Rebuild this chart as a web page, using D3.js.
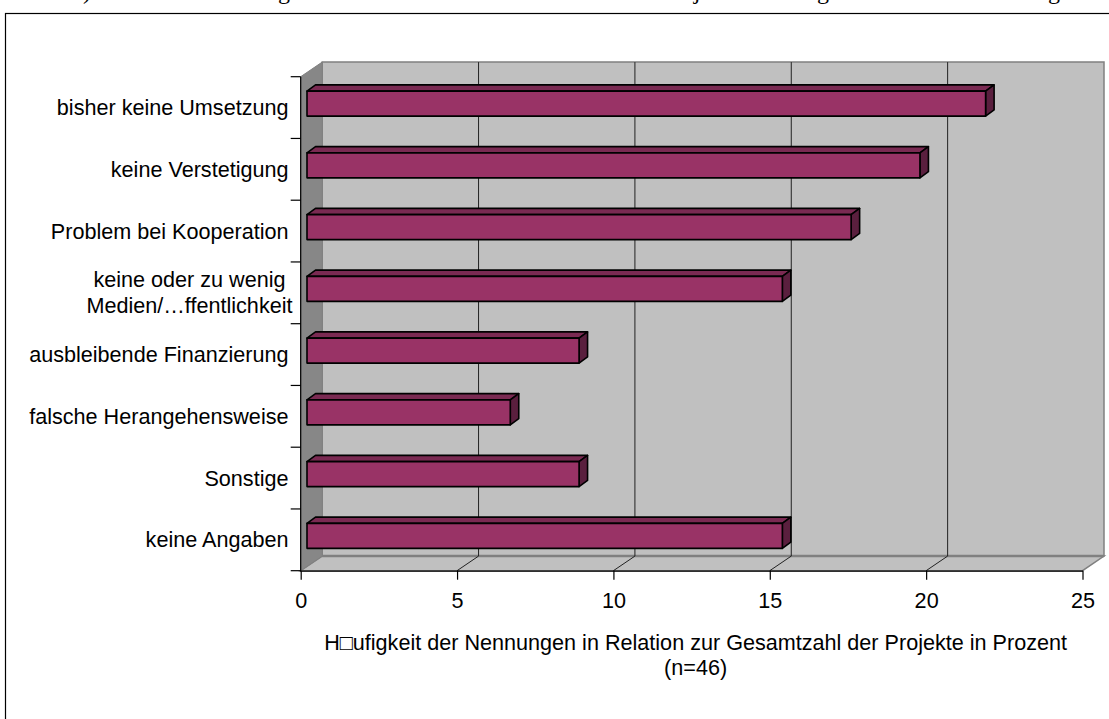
<!DOCTYPE html>
<html>
<head>
<meta charset="utf-8">
<script src="https://cdn.jsdelivr.net/npm/d3@7"></script>
<style>
  body { margin: 0; background: #fff; }
  text { font-family: "Liberation Sans", Arial, sans-serif; }
</style>
</head>
<body>
<script>
// Data
const categories = [
  "bisher keine Umsetzung",
  "keine Verstetigung",
  "Problem bei Kooperation",
  "keine oder zu wenig\nMedien/\u2026ffentlichkeit",
  "ausbleibende Finanzierung",
  "falsche Herangehensweise",
  "Sonstige",
  "keine Angaben"
];
const values = [21.7, 19.6, 17.4, 15.2, 8.7, 6.5, 8.7, 15.2];
const xTicks = [0, 5, 10, 15, 20, 25];
const axisTitle = ["H\u25A1ufigkeit der Nennungen in Relation zur Gesamtzahl der Projekte in Prozent", "(n=46)"];

const w = 1109;
const h = 719;
const fontSize = "21.6px";

// Scales
const xScale = d3.scaleLinear().domain([0, 25]).range([300.7, 1082.5]);
const yScale = d3.scaleBand().domain(categories).range([76.7, 570.7]);

// 3d offsets
const DX = 21.5, DY = -14.6;      // wall depth
const FX = 6.3, FY = -4;          // bar front face
const BX = 8.5, BY = -6.2;        // bar depth
const barH = 25;

const svg = d3.select("body")
  .append("svg")
  .attr("width", w)
  .attr("height", h);

svg.append("rect").attr("width", w).attr("height", h).attr("fill", "#fff");

// cut off line of the page above (only the descenders show)
const glyphs = [[")", 87], ["g", 284], ["j", 697], ["g", 823], ["g", 1054]];
svg.selectAll("text.cut")
  .data(glyphs)
  .enter()
  .append("text")
  .attr("class", "cut")
  .attr("x", d => d[1])
  .attr("y", -1)
  .attr("text-anchor", "middle")
  .style("font-family", "'Liberation Serif', serif")
  .style("font-size", "24px")
  .text(d => d[0]);

// frame
svg.append("rect")
  .attr("x", 5.5).attr("y", 13.5)
  .attr("width", 1120).attr("height", 720)
  .attr("fill", "none").attr("stroke", "#000").attr("stroke-width", 1.2);

const x0 = xScale(0), x25 = xScale(25);
const yTop = yScale.range()[0], yBot = yScale.range()[1];
const pts = a => a.map(p => p.join(",")).join(" ");

// back wall
svg.append("polygon")
  .attr("points", pts([[x0 + DX, yTop + DY], [x25 + DX, yTop + DY], [x25 + DX, yBot + DY], [x0 + DX, yBot + DY]]))
  .attr("fill", "#c0c0c0").attr("stroke", "#808080").attr("stroke-width", 1.5);

// floor
svg.append("polygon")
  .attr("points", pts([[x0, yBot], [x25, yBot], [x25 + DX, yBot + DY], [x0 + DX, yBot + DY]]))
  .attr("fill", "#c0c0c0").attr("stroke", "#808080").attr("stroke-width", 1.5);
svg.append("line")
  .attr("x1", x0 + DX).attr("x2", x25 + DX)
  .attr("y1", yBot + DY).attr("y2", yBot + DY)
  .attr("stroke", "#808080").attr("stroke-width", 2.5);

// side wall
svg.append("polygon")
  .attr("points", pts([[x0, yTop], [x0 + DX, yTop + DY], [x0 + DX, yBot + DY], [x0, yBot]]))
  .attr("fill", "#878787").attr("stroke", "#808080").attr("stroke-width", 1);

// gridlines
const grid = xTicks.filter(t => t > 0 && t < 25);
svg.selectAll("polyline.grid")
  .data(grid)
  .enter()
  .append("polyline")
  .attr("class", "grid")
  .attr("points", d => pts([[xScale(d) + DX, yTop + DY], [xScale(d) + DX, yBot + DY], [xScale(d), yBot]]))
  .attr("fill", "none").attr("stroke", "#222").attr("stroke-width", 1);

// bars
const bars = svg.selectAll("g.bar")
  .data(categories.map((c, i) => ({ c: c, v: values[i] })))
  .enter()
  .append("g")
  .attr("class", "bar")
  .attr("stroke", "#000")
  .attr("stroke-width", 1.6)
  .attr("stroke-linejoin", "round");

const geo = d => {
  const bx0 = x0 + FX, bx1 = xScale(d.v) + FX;
  const by = yScale(d.c) + yScale.bandwidth() / 2 - barH / 2 + FY;
  return { bx0, bx1, by };
};

bars.append("polygon")
  .attr("points", d => { const g = geo(d); return pts([[g.bx0, g.by], [g.bx1, g.by], [g.bx1 + BX, g.by + BY], [g.bx0 + BX, g.by + BY]]); })
  .attr("fill", "#7a2a52");
bars.append("polygon")
  .attr("points", d => { const g = geo(d); return pts([[g.bx1, g.by], [g.bx1 + BX, g.by + BY], [g.bx1 + BX, g.by + barH + BY], [g.bx1, g.by + barH]]); })
  .attr("fill", "#5a1f3e");
bars.append("rect")
  .attr("x", d => geo(d).bx0)
  .attr("y", d => geo(d).by)
  .attr("width", d => geo(d).bx1 - geo(d).bx0)
  .attr("height", barH)
  .attr("fill", "#993366");

// y axis
svg.append("line")
  .attr("x1", x0).attr("x2", x0).attr("y1", yTop).attr("y2", yBot + 1)
  .attr("stroke", "#000").attr("stroke-width", 1.2);
const bounds = categories.map(c => yScale(c)).concat([yBot]);
svg.selectAll("line.ytick")
  .data(bounds)
  .enter()
  .append("line")
  .attr("class", "ytick")
  .attr("x1", x0 - 10).attr("x2", x0)
  .attr("y1", d => d).attr("y2", d => d)
  .attr("stroke", "#000").attr("stroke-width", 1.2);

// category labels
const labelRight = 288.5;
const lineH = 26;
categories.forEach(c => {
  const lines = c.split("\n");
  const cy = yScale(c) + yScale.bandwidth() / 2;
  const t = svg.append("text")
    .style("font-size", fontSize)
    .attr("fill", "#000");
  lines.forEach((l, i) => {
    t.append("tspan")
      .attr("x", labelRight)
      .attr("y", cy + 7.6 - (lines.length - 1) * lineH / 2 + i * lineH)
      .text(l);
  });
  if (lines.length > 1) {
    const maxW = d3.max(t.selectAll("tspan").nodes(), n => n.getComputedTextLength());
    t.attr("text-anchor", "middle").selectAll("tspan").attr("x", labelRight + 4 - maxW / 2);
  } else {
    t.attr("text-anchor", "end");
  }
});

// x axis
const xAxis = d3.axisBottom(xScale)
  .tickValues(xTicks)
  .tickSize(9)
  .tickSizeOuter(0)
  .tickPadding(13)
  .tickFormat(d3.format("d"));

const gx = svg.append("g")
  .attr("transform", "translate(0," + yBot + ")")
  .call(xAxis);
gx.select(".domain").attr("stroke", "#000").attr("stroke-width", 1.2);
gx.selectAll(".tick line").attr("stroke", "#000").attr("stroke-width", 1.2);
gx.selectAll(".tick text")
  .attr("fill", "#000")
  .style("font-family", "'Liberation Sans', Arial, sans-serif")
  .style("font-size", fontSize);

// axis title
const tx = (x0 + x25) / 2 + 4;
const title = svg.append("text")
  .attr("text-anchor", "middle")
  .style("font-size", fontSize)
  .attr("fill", "#000");
axisTitle.forEach((l, i) => {
  title.append("tspan")
    .attr("x", tx)
    .attr("y", 650 + i * 25)
    .text(l);
});
</script>
</body>
</html>
